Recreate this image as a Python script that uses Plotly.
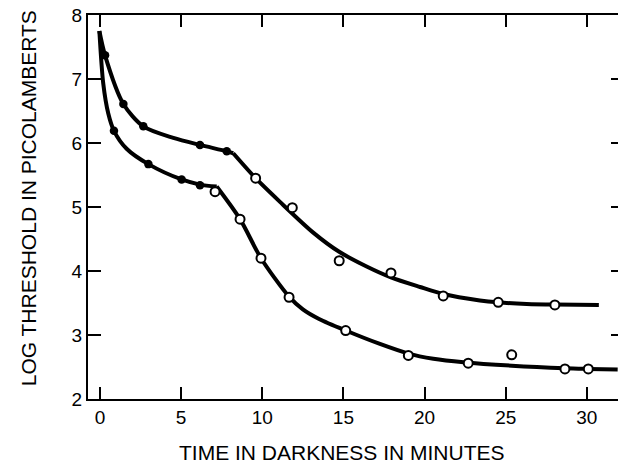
import plotly.graph_objects as go

# Measured data points (minutes, log threshold)
upper_filled_x = [0.31, 1.44, 2.67, 6.16, 7.81]
upper_filled_y = [7.37, 6.61, 6.26, 5.97, 5.87]
upper_open_x = [9.59, 11.85, 14.74, 17.93, 21.15, 24.54, 28.03]
upper_open_y = [5.45, 4.99, 4.16, 3.97, 3.61, 3.51, 3.47]

lower_filled_x = [0.86, 2.98, 5.03, 6.16]
lower_filled_y = [6.19, 5.67, 5.43, 5.34]
lower_open_x = [7.09, 8.63, 9.92, 11.65, 15.14, 19.0, 22.69, 25.37, 28.65, 30.09]
lower_open_y = [5.24, 4.81, 4.20, 3.59, 3.07, 2.68, 2.56, 2.69, 2.47, 2.47]

# Fitted curves (cone branch, then rod branch after the kink)
upper_cone_x = [-0.04, 0.31, 1.44, 2.67, 4.52, 6.16, 7.81, 8.21]
upper_cone_y = [7.75, 7.37, 6.61, 6.26, 6.08, 5.97, 5.87, 5.84]
upper_rod_x = [8.21, 9.59, 11.09, 13.14, 14.74, 16.43, 17.93, 19.72, 21.15, 23.41,
               24.54, 26.29, 28.03, 30.74]
upper_rod_y = [5.84, 5.45, 5.08, 4.60, 4.30, 4.07, 3.90, 3.75, 3.64, 3.54,
               3.51, 3.485, 3.475, 3.47]

lower_cone_x = [-0.04, 0.2, 0.51, 0.86, 1.64, 2.98, 5.03, 6.16, 7.19]
lower_cone_y = [7.75, 6.93, 6.46, 6.19, 5.91, 5.67, 5.43, 5.35, 5.32]
lower_rod_x = [7.19, 8.63, 9.92, 11.65, 12.5, 13.5, 15.14, 17.25, 19.0, 20.54,
               22.4, 25.37, 28.65, 30.09, 31.9]
lower_rod_y = [5.32, 4.81, 4.20, 3.60, 3.40, 3.25, 3.07, 2.86, 2.71, 2.63,
               2.575, 2.52, 2.48, 2.47, 2.46]

x_ticks = [0, 5, 10, 15, 20, 25, 30]
y_ticks = [2, 3, 4, 5, 6, 7, 8]

FONT = "Liberation Sans, Arial, Helvetica, sans-serif"

fig = go.Figure()

for cx, cy in [(upper_cone_x, upper_cone_y), (upper_rod_x, upper_rod_y),
               (lower_cone_x, lower_cone_y), (lower_rod_x, lower_rod_y)]:
    fig.add_trace(go.Scatter(x=cx, y=cy, mode="lines",
                             line=dict(color="black", width=4, shape="spline", smoothing=0.8),
                             hoverinfo="skip", showlegend=False))

for fx, fy in [(upper_filled_x, upper_filled_y), (lower_filled_x, lower_filled_y)]:
    fig.add_trace(go.Scatter(x=fx, y=fy, mode="markers",
                             marker=dict(color="black", size=8.5, line=dict(width=0)),
                             showlegend=False))

for ox, oy in [(upper_open_x, upper_open_y), (lower_open_x, lower_open_y)]:
    fig.add_trace(go.Scatter(x=ox, y=oy, mode="markers",
                             marker=dict(color="white", size=9, line=dict(color="black", width=2)),
                             showlegend=False))

# invisible trace to carry the right-hand y axis ticks
fig.add_trace(go.Scatter(x=[None], y=[None], yaxis="y2", showlegend=False, hoverinfo="skip"))

fig.update_layout(
    width=618, height=464,
    margin=dict(l=88, r=0, t=15, b=65),
    paper_bgcolor="white", plot_bgcolor="white",
    font=dict(family=FONT, size=19, color="black"),
    xaxis=dict(range=[-0.74, 31.92], tickvals=x_ticks, ticktext=[str(v) for v in x_ticks],
               ticks="inside", ticklen=12, tickwidth=2, tickcolor="black",
               showline=True, linewidth=2, linecolor="black", mirror="ticks",
               showgrid=False, zeroline=False, ticklabelstandoff=0,
               tickfont=dict(family=FONT, size=19, color="black")),
    yaxis=dict(range=[2, 8], tickvals=y_ticks, ticktext=[str(v) for v in y_ticks],
               ticks="inside", ticklen=13, tickwidth=2, tickcolor="black",
               showline=True, linewidth=2, linecolor="black", mirror=False,
               showgrid=False, zeroline=False,
               tickfont=dict(family=FONT, size=19, color="black")),
    yaxis2=dict(range=[2, 8], overlaying="y", side="right", tickvals=[3, 4, 5, 6, 7],
                ticks="inside", ticklen=7, tickwidth=2, tickcolor="black",
                showticklabels=False, showline=False, showgrid=False, zeroline=False),
    annotations=[
        dict(text="TIME IN DARKNESS IN MINUTES", xref="paper", yref="paper",
             x=0.479, y=-0.1406, xanchor="center", yanchor="middle", showarrow=False,
             font=dict(family=FONT, size=21, color="black")),
        dict(text="LOG THRESHOLD IN PICOLAMBERTS", xref="paper", yref="paper",
             x=-0.113, y=0.523, xanchor="center", yanchor="middle", showarrow=False,
             textangle=-90, font=dict(family=FONT, size=21, color="black")),
    ],
)

fig.write_html("out.html")
